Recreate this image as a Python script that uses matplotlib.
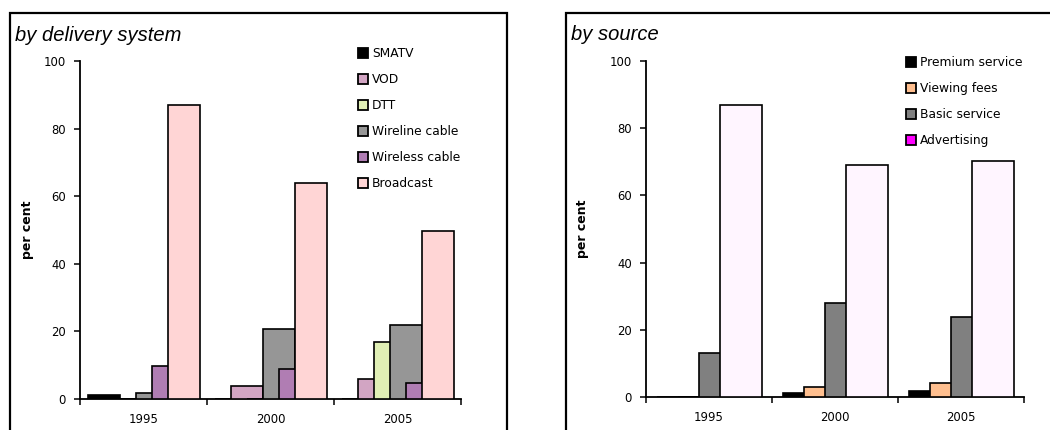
import numpy as np
import matplotlib
matplotlib.use('Agg')
import matplotlib.pyplot as plt
from matplotlib.patches import Patch, Rectangle

# data (per cent)
years = ['1995', '2000', '2005']

delivery_labels = ['SMATV', 'VOD', 'DTT', 'Wireline cable', 'Wireless cable', 'Broadcast']
smatv = [1.1, 0, 0]
vod = [0, 3.9, 5.9]
dtt = [0, 0, 17.0]
wireline = [1.7, 20.6, 21.8]
wireless = [9.9, 8.8, 4.6]
broadcast = [86.9, 63.8, 49.7]
delivery_colors = ['#000000', '#D2A5C3', '#E0EFB5', '#969696', '#B07DB3', '#FFD5D5']

source_labels = ['Premium service', 'Viewing fees', 'Basic service', 'Advertising']
premium = [0, 1.3, 1.9]
viewing = [0, 2.9, 4.1]
basic = [13.1, 27.9, 23.7]
advertising = [86.8, 69.0, 70.1]
source_colors = ['#000000', '#FFBF8F', '#808080', '#FFF5FF']
source_legend_colors = ['#000000', '#FFBF8F', '#808080', '#FF00FF']

plt.rcParams['font.family'] = 'DejaVu Sans'
EDGE = 1.2


def draw_panel(ax, series, colors, legend_colors, labels, step):
    # Excel-style clustered bars with 50% overlap: width = 2 * step
    n = len(series)
    margin = (1 - (n + 1) * step) / 2
    x = np.arange(len(years))
    for i, vals in enumerate(series):
        ax.bar(x + margin + i * step, vals, width=2 * step, align='edge',
               color=colors[i], edgecolor='black', linewidth=EDGE, zorder=2 + i)
    ax.set_xlim(0, len(years))
    ax.set_ylim(0, 100)
    ax.set_yticks(np.arange(0, 101, 20))
    ax.set_xticks(np.arange(len(years) + 1))
    ax.set_xticklabels([])
    ax.set_xticks(x + 0.5, minor=True)
    ax.set_xticklabels(years, minor=True)
    ax.tick_params(axis='x', which='minor', length=0, pad=10, labelsize=8.4)
    ax.tick_params(axis='x', which='major', direction='out', length=4, width=1.1)
    ax.tick_params(axis='y', direction='out', length=4, width=1.1, pad=6, labelsize=8.4)
    for s in ['top', 'right']:
        ax.spines[s].set_visible(False)
    for s in ['left', 'bottom']:
        ax.spines[s].set_linewidth(1.3)
        ax.spines[s].set_zorder(1)
    ax.set_ylabel('per cent', fontsize=9, fontweight='bold')
    handles = [Patch(facecolor=c, edgecolor='black', linewidth=1.3) for c in legend_colors]
    return handles, labels


fig = plt.figure(figsize=(10.5, 4.3), dpi=100)

# panel frames
fig.patches.append(Rectangle((10 / 1050, -0.1), 497 / 1050, 1.1 - 13 / 430, fill=False,
                             edgecolor='black', linewidth=1.6, transform=fig.transFigure))
fig.patches.append(Rectangle((566 / 1050, -0.1), 0.5, 1.1 - 13 / 430, fill=False,
                             edgecolor='black', linewidth=1.6, transform=fig.transFigure))

ax1 = fig.add_axes([80 / 1050, 31 / 430, 381 / 1050, 338 / 430])
h1, l1 = draw_panel(ax1, [smatv, vod, dtt, wireline, wireless, broadcast],
                    delivery_colors, delivery_colors, delivery_labels, 16 / 127)
ax1.yaxis.set_label_coords(-0.12, 0.5)
fig.legend(h1, l1, loc='upper left', bbox_to_anchor=(358 / 1050, 1 - 47 / 430),
           frameon=False, fontsize=8.8, handlelength=0.85, handleheight=0.85,
           handletextpad=0.3, labelspacing=1.07, borderpad=0, borderaxespad=0)

ax2 = fig.add_axes([646 / 1050, 33 / 430, 378 / 1050, 336 / 430])
h2, l2 = draw_panel(ax2, [premium, viewing, basic, advertising],
                    source_colors, source_legend_colors, source_labels, 21 / 126)
ax2.yaxis.set_label_coords(-0.15, 0.5)
fig.legend(h2, l2, loc='upper left', bbox_to_anchor=(906 / 1050, 1 - 56 / 430),
           frameon=False, fontsize=8.8, handlelength=0.85, handleheight=0.85,
           handletextpad=0.3, labelspacing=1.07, borderpad=0, borderaxespad=0)

fig.text(15 / 1050, 1 - 41 / 430, 'by delivery system', fontsize=14.5, style='italic',
         family='Liberation Sans', va='baseline')
fig.text(571 / 1050, 1 - 40 / 430, 'by source', fontsize=14.5, style='italic',
         family='Liberation Sans', va='baseline')

fig.savefig('out.png', dpi=100)
